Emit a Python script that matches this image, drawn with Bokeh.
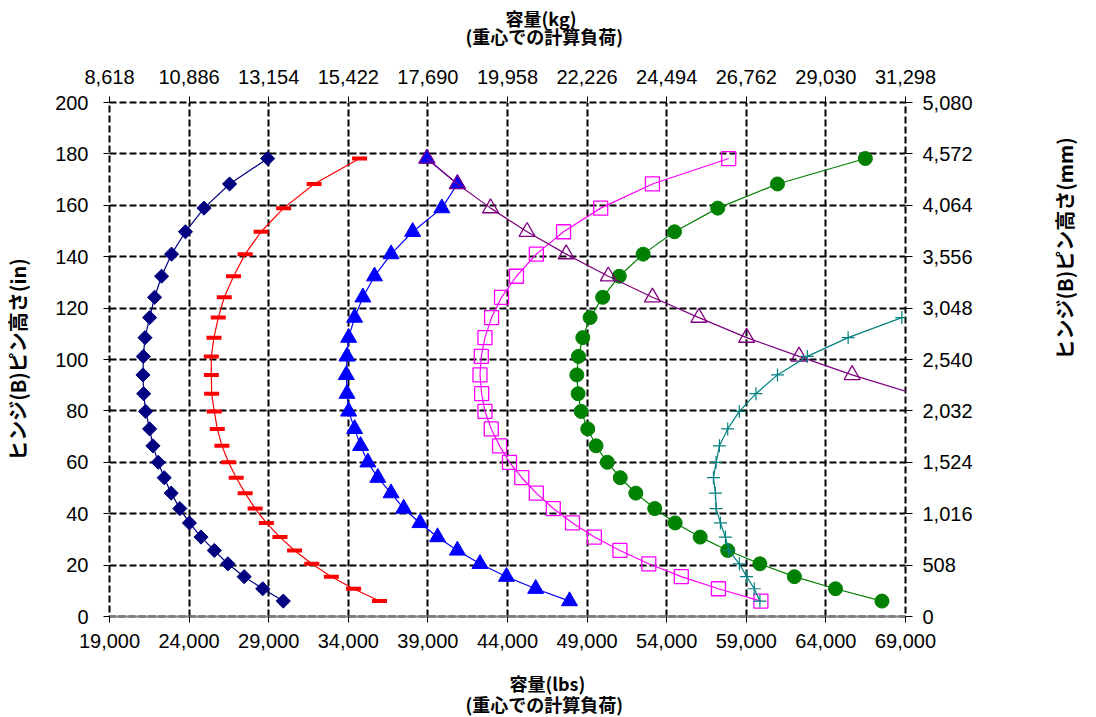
import math
from bokeh.plotting import figure
from bokeh.models import LinearAxis, FixedTicker, Title
from bokeh.embed import file_html
from bokeh.resources import INLINE

# ---- data (pin height in inches, capacity in lbs) ----
heights = [6, 10.8, 15.5, 20.5, 25.7, 30.9, 36.4, 42, 48, 54, 60, 66.4, 73,
           79.8, 86.7, 94, 101.2, 108.5, 116.3, 124.2, 132.4, 141, 149.7,
           158.9, 168.3, 178.2]

navy_lbs = [29917, 28625, 27458, 26437, 25583, 24750, 24020, 23417, 22875,
            22437, 22062, 21729, 21521, 21271, 21146, 21104, 21125, 21229,
            21521, 21833, 22271, 22896, 23771, 24937, 26542, 28937]
red_lbs = [35958, 34333, 32937, 31708, 30625, 29708, 28854, 28146, 27521,
           26958, 26479, 26062, 25771, 25583, 25417, 25396, 25396, 25562,
           25833, 26208, 26792, 27521, 28521, 29937, 31854, 34708]
blue_lbs = [47896, 45771, 43937, 42271, 40854, 39604, 38500, 37479, 36687,
            35854, 35229, 34771, 34396, 34021, 33917, 33875, 33917, 34021,
            34396, 34917, 35646, 36687, 38042, 39875, 40854, 38937]
magenta_lbs = [59917, 57250, 54917, 52875, 51062, 49458, 48083, 46875, 45812,
               44896, 44125, 43500, 42979, 42583, 42375, 42271, 42354, 42583,
               43000, 43625, 44562, 45812, 47521, 49854, 53104, 57896]
green_lbs = [67521, 64604, 62021, 59854, 57833, 56104, 54531, 53250, 52062,
             51083, 50271, 49562, 49042, 48625, 48437, 48354, 48458, 48729,
             49187, 49979, 51021, 52521, 54490, 57208, 60958, 66479]
purple_heights = [86.7, 94, 101.2, 108.5, 116.3, 124.2, 132.4, 141, 149.7,
                  158.9, 168.3, 178.2]
purple_lbs = [69500, 65646, 62312, 59021, 56021, 53104, 50333, 47687, 45229,
              42937, 40854, 38937]
teal_heights = [6, 10.8, 15.5, 20.5, 25.7, 30.9, 36.4, 42, 48, 54, 60, 66.4,
                73, 79.8, 86.7, 94, 101.2, 108.5, 116.3]
teal_lbs = [59854, 59500, 59021, 58562, 57896, 57687, 57375, 57104, 57062,
            56937, 57104, 57312, 57833, 58562, 59604, 60958, 62833, 65396,
            68771]

x_ticks = [19000, 24000, 29000, 34000, 39000, 44000, 49000, 54000, 59000,
           64000, 69000]
lbs_labels = ["19,000", "24,000", "29,000", "34,000", "39,000", "44,000",
              "49,000", "54,000", "59,000", "64,000", "69,000"]
kg_labels = ["8,618", "10,886", "13,154", "15,422", "17,690", "19,958",
             "22,226", "24,494", "26,762", "29,030", "31,298"]
y_ticks = [0, 20, 40, 60, 80, 100, 120, 140, 160, 180, 200]
in_labels = ["0", "20", "40", "60", "80", "100", "120", "140", "160", "180",
             "200"]
mm_labels = ["0", "508", "1,016", "1,524", "2,032", "2,540", "3,048",
             "3,556", "4,064", "4,572", "5,080"]

TICK_FONT = "Liberation Sans"
TITLE_FONT = "Noto Sans CJK JP"

p = figure(width=1096, height=717, x_range=(19000, 69000), y_range=(0, 200),
           output_backend="svg", toolbar_location=None,
           min_border_left=107, min_border_right=189, min_border_top=102,
           min_border_bottom=101)
p.outline_line_color = "black"
p.outline_line_width = 2
p.outline_line_dash = "7 3"
p.background_fill_color = "white"

top_axis = LinearAxis()
right_axis = LinearAxis()
p.add_layout(top_axis, "above")
p.add_layout(right_axis, "right")
bottom_axis = p.below[0]
left_axis = p.left[0]


def style_axis(ax, ticks, labels, standoff, tick_out, line_color=None):
    ax.ticker = FixedTicker(ticks=ticks)
    ax.major_label_overrides = {t: l for t, l in zip(ticks, labels)}
    ax.major_label_text_font = TICK_FONT
    ax.major_label_text_font_size = "20px"
    ax.major_label_text_color = "black"
    ax.major_label_standoff = standoff
    ax.major_tick_out = tick_out
    ax.major_tick_in = 0
    ax.minor_tick_out = 0
    ax.minor_tick_in = 0
    ax.major_tick_line_color = "black"
    ax.major_tick_line_width = 1
    ax.axis_line_color = line_color
    ax.axis_line_width = 2
    ax.axis_label_text_font = TITLE_FONT
    ax.axis_label_text_font_size = "20px"
    ax.axis_label_text_font_style = "bold"
    ax.axis_label_text_color = "black"


style_axis(bottom_axis, x_ticks, lbs_labels, 11, 6, "#808080")
style_axis(top_axis, x_ticks, kg_labels, 13, 6)
style_axis(left_axis, y_ticks, in_labels, 15, 6)
style_axis(right_axis, y_ticks, mm_labels, 10, 7)

left_axis.axis_label = "ヒンジ(B)ピン高さ(in)"
left_axis.axis_label_standoff = 20
right_axis.axis_label = "ヒンジ(B)ピン高さ(mm)"
right_axis.axis_label_standoff = 89
right_axis.axis_label_orientation = math.pi / 2

for g, t in ((p.xgrid[0], x_ticks), (p.ygrid[0], y_ticks)):
    g.ticker = FixedTicker(ticks=t)
    g.grid_line_color = "black"
    g.grid_line_width = 2
    g.grid_line_dash = "7 3"

# ---- series ----
p.line(navy_lbs, heights, line_color="#000080", line_width=1.2)
p.scatter(navy_lbs, heights, marker="square", angle=math.pi / 4, size=10,
          fill_color="#000080", line_color="#000080")

p.line(red_lbs, heights, line_color="#FF0000", line_width=1.2)
p.scatter(red_lbs, heights, marker="dash", size=15, line_color="#FF0000",
          line_width=4)

p.line(blue_lbs, heights, line_color="#0000FF", line_width=1.2)
p.scatter(blue_lbs, heights, marker="triangle", size=16,
          fill_color="#0000FF", line_color="#0000FF")

p.line(magenta_lbs, heights, line_color="#FF00FF", line_width=1.2)
p.scatter(magenta_lbs, heights, marker="square", size=14, fill_color=None,
          line_color="#FF00FF", line_width=1.3)

p.line(green_lbs, heights, line_color="#008000", line_width=1.2)
p.scatter(green_lbs, heights, marker="circle", size=14,
          fill_color="#008000", line_color="#008000")

p.line(purple_lbs, purple_heights, line_color="#800080", line_width=1.2)
p.scatter(purple_lbs, purple_heights, marker="triangle", size=16,
          fill_color=None, line_color="#800080", line_width=1.3)

p.line(teal_lbs, teal_heights, line_color="#008080", line_width=1.2)
p.scatter(teal_lbs, teal_heights, marker="cross", size=13,
          line_color="#008080", line_width=1.2)

# ---- top / bottom axis titles: one Title per line ----
def side_title(text, offset, standoff, valign):
    return Title(text=text, align="left", offset=offset, standoff=standoff,
                 vertical_align=valign,
                 text_font=TITLE_FONT, text_font_size="18px",
                 text_font_style="bold", text_color="black")


# above: nearest to the frame first
p.add_layout(side_title("(重心での計算負荷)", 356, 35, "bottom"), "above")
p.add_layout(side_title("容量(kg)", 396, -54, "bottom"), "above")
# below: nearest to the frame first
p.add_layout(side_title("容量(lbs)", 400, 39, "top"), "below")
p.add_layout(side_title("(重心での計算負荷)", 356, -54, "top"), "below")

open("out.html", "w").write(file_html(p, INLINE))
